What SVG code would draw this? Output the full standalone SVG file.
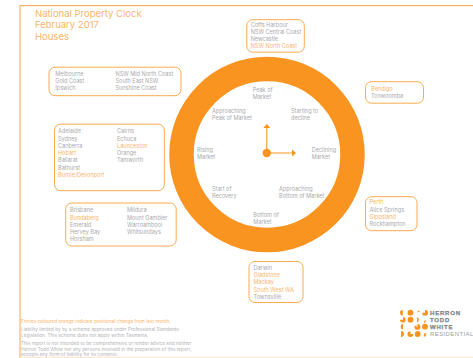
<svg xmlns="http://www.w3.org/2000/svg" width="473" height="358" viewBox="0 0 473 358">
<style>
text{font-family:"Inter","Liberation Sans",sans-serif;font-size:5.55px;fill:#aaaaad}
.o{fill:#fbb56b}
.t{font-size:9.5px;fill:#fbb56b}
.box{fill:#fff;stroke:#f9a13c;stroke-width:.9}
.f{font-size:4.7px;fill:#b4b4b7}
.fo{font-size:4.7px;fill:#fbb56b}
.l{font-family:"Liberation Sans",sans-serif;font-size:6px;font-weight:700;fill:#808285;stroke:#808285;stroke-width:.25px;letter-spacing:.8px}
.r{font-family:"Liberation Sans",sans-serif;font-size:6px;fill:#9a9c9f;letter-spacing:.4px}
.d{fill:#f7941f}
</style>
<rect width="473" height="358" fill="#fff"/>
<g id="frame" fill="none">
<path d="M473 5.700H20V358" stroke="#fbb56b" stroke-width="1.200"/>
<path d="M20 357.400H473" stroke="#fde3c8" stroke-width="1"/>
</g>
<g id="title">
<text class="t" x="35" y="17">National Property Clock</text>
<text class="t" x="35" y="28">February 2017</text>
<text class="t" x="35" y="40">Houses</text>
</g>
<g id="clock">
<circle cx="267" cy="154.500" r="85.500" fill="none" stroke="#f99420" stroke-width="24.500"/>
<text x="252.700" y="91.500">Peak of</text><text x="252.700" y="98.500">Market</text>
<text x="291" y="113">Starting to</text><text x="291" y="120">decline</text>
<text x="311.700" y="152">Declining</text><text x="311.700" y="159">Market</text>
<text x="279" y="191">Approaching</text><text x="279" y="198">Bottom of Market</text>
<text x="253.300" y="216.500">Bottom of</text><text x="253.300" y="223.500">Market</text>
<text x="212" y="190.500">Start of</text><text x="212" y="197.500">Recovery</text>
<text x="197" y="152">Rising</text><text x="197" y="159">Market</text>
<text x="212" y="113">Approaching</text><text x="212" y="120">Peak of Market</text>
</g>
<g id="connectors">
<circle class="d" cx="266.800" cy="153" r="4.200"/>
<path d="M266.800 153V128M266.800 153H293" stroke="#f99420" stroke-width="1.100" fill="none"/>
<path class="d" d="M263.300 128L266.800 124L270.300 128ZM292 149.500L296 153L292 156.500Z"/>
</g>
<g id="n-north">
<rect class="box" x="246.800" y="19.700" width="57.500" height="32.500" rx="6"/>
<text x="250.700" y="27">Coffs Harbour</text><text x="250.700" y="34">NSW Central Coast</text><text x="250.700" y="41">Newcastle</text><text class="o" x="250.700" y="48">NSW North Coast</text>
</g>
<g id="n-melbourne">
<rect class="box" x="49" y="67.200" width="132" height="28.500" rx="6"/>
<text x="55.300" y="76">Melbourne</text><text x="55.300" y="83">Gold Coast</text><text x="55.300" y="90">Ipswich</text>
<text x="115.500" y="76">NSW Mid North Coast</text><text x="115.500" y="83">South East NSW</text><text x="115.500" y="90">Sunshine Coast</text>
</g>
<g id="n-bendigo">
<rect class="box" x="365.500" y="81.700" width="58" height="21.500" rx="6"/>
<text class="o" x="371" y="91">Bendigo</text><text x="371" y="98">Toowoomba</text>
</g>
<g id="n-adelaide">
<rect class="box" x="54.500" y="124.200" width="109.800" height="66.500" rx="6"/>
<text x="58" y="133">Adelaide</text><text x="58" y="141">Sydney</text><text x="58" y="148">Canberra</text><text class="o" x="58" y="155">Hobart</text><text x="58" y="162">Ballarat</text><text x="58" y="169.500">Bathurst</text><text class="o" x="58" y="176.500">Burnie/Devonport</text>
<text x="117" y="133">Cairns</text><text x="117" y="141">Echuca</text><text class="o" x="117" y="148">Launceston</text><text x="117" y="155">Orange</text><text x="117" y="162">Tamworth</text>
</g>
<g id="n-brisbane">
<rect class="box" x="65.700" y="203" width="110.500" height="43" rx="6"/>
<text x="70" y="211.700">Brisbane</text><text class="o" x="70" y="219.700">Bundaberg</text><text x="70" y="226.700">Emerald</text><text x="70" y="233.700">Hervey Bay</text><text x="70" y="240.700">Horsham</text>
<text x="127" y="211.700">Mildura</text><text x="127" y="219.700">Mount Gambier</text><text x="127" y="226.700">Warrnambool</text><text x="127" y="233.700">Whitsundays</text>
</g>
<g id="n-perth">
<rect class="box" x="365.500" y="196.700" width="51.500" height="34" rx="6"/>
<text class="o" x="369.500" y="203.500">Perth</text><text x="369.500" y="211.700">Alice Springs</text><text class="o" x="369.500" y="218.700">Gippsland</text><text x="369.500" y="225.700">Rockhampton</text>
</g>
<g id="n-darwin">
<rect class="box" x="249" y="261.500" width="54" height="41" rx="6"/>
<text x="253.500" y="269.500">Darwin</text><text class="o" x="253.500" y="276.500">Gladstone</text><text class="o" x="253.500" y="283.500">Mackay</text><text class="o" x="253.500" y="291.500">South West WA</text><text x="253.500" y="298.500">Townsville</text>
</g>
<g id="notes">
<text class="fo" x="21" y="323">Entries coloured orange indicate positional change from last month.</text>
<text class="f" x="21" y="331">Liability limited by by a scheme approved under Professional Standards</text>
<text class="f" x="21" y="337">Legislation. This scheme does not apply within Tasmania.</text>
<text class="f" x="21" y="345">This report is not intended to be comprehensive or render advice and neither</text>
<text class="f" x="21" y="351">Herron Todd White nor any persons involved in the preparation of this report,</text>
<text class="f" x="21" y="356">accepts any form of liability for its contents.</text>
</g>
<g id="logo">
<path class="d" d="M402.800 310V315.600A2.800 2.800 0 0 1 402.800 310ZM425 310A2.900 2.900 0 1 1 422.200 312.800H425ZM418 310.500L420 311.500L417.500 312.500ZM403 317A2.800 2.800 0 1 1 400 319.800H403ZM417 317A3 3 0 0 1 417 322.500ZM424.500 320.500H426.500L425 323H424ZM403 323.800V329.500A2.900 2.900 0 0 1 403 323.800ZM417 325L416 327.500L413.500 327ZM417.500 324A2.900 2.900 0 1 1 414.600 326.900H417.500ZM401 331A3 3 0 0 1 401 337ZM410.500 331.200V334H413.300A2.900 2.900 0 1 1 410.500 331.200ZM424 333.500H426.500L425.500 336.500H424Z"/>
<circle class="d" cx="410.500" cy="312.700" r="2.900"/><circle class="d" cx="410.500" cy="319.700" r="2.900"/><circle class="d" cx="425" cy="326.700" r="2.900"/><circle class="d" cx="417.700" cy="334" r="2.900"/>
<text class="l" x="430" y="315.200">HERRON</text>
<text class="l" x="430" y="322.200">TODD</text>
<text class="l" x="430" y="329.200">WHITE</text>
<text class="r" x="430" y="336.200">RESIDENTIAL</text>
</g>
</svg>
